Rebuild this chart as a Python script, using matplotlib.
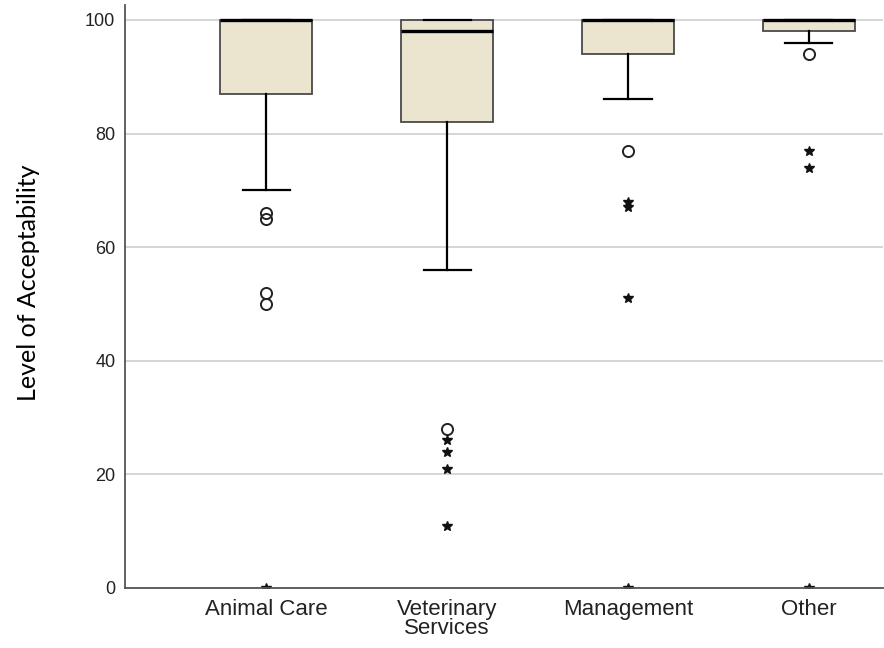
import matplotlib.pyplot as plt

# group names and box statistics
groups = ["Animal Care", "Veterinary\nServices", "Management", "Other"]
q1 = [87, 82, 94, 98]
med = [100, 98, 100, 100]
q3 = [100, 100, 100, 100]
whislo = [70, 56, 86, 96]
whishi = [100, 100, 100, 100]

# outliers (circles) and extreme values (stars)
circles = [[66, 65, 52, 50], [28], [77], [94]]
stars = [[0], [26, 24, 21, 11], [68, 67, 51, 0], [77, 74, 0]]

fig = plt.figure(figsize=(8.84, 6.48), dpi=100)
ax = fig.add_axes([0.1414, 0.0926, 0.8576, 0.8994])

stats = []
for i in range(len(groups)):
    stats.append(dict(q1=q1[i], med=med[i], q3=q3[i], whislo=whislo[i],
                      whishi=whishi[i], fliers=[], label=groups[i]))

pos = [1, 2, 3, 4]
ax.bxp(stats, positions=pos, widths=0.51, patch_artist=True, showfliers=False,
       boxprops=dict(facecolor="#ebe4ce", edgecolor="#4a4a4a", linewidth=1.3),
       medianprops=dict(color="black", linewidth=2.4),
       whiskerprops=dict(color="black", linewidth=1.6),
       capprops=dict(color="black", linewidth=1.6),
       capwidths=0.26, zorder=3)

for i, p in enumerate(pos):
    ax.plot([p] * len(circles[i]), circles[i], linestyle="none", marker="o",
            markersize=8, markerfacecolor="none", markeredgecolor="#222222",
            markeredgewidth=1.4, zorder=4)
    ax.plot([p] * len(stars[i]), stars[i], linestyle="none", marker="*",
            markersize=7.5, color="#111111", zorder=4)

ax.set_xlim(0.22, 4.41)
ax.set_ylim(0, 102.6)
ax.set_yticks([0, 20, 40, 60, 80, 100])
ax.yaxis.grid(True, color="#d2d2d2", linewidth=1.3)
ax.set_axisbelow(True)

for s in ["top", "right"]:
    ax.spines[s].set_visible(False)
for s in ["left", "bottom"]:
    ax.spines[s].set_color("#555555")
    ax.spines[s].set_linewidth(1.3)
    ax.spines[s].set_zorder(5)

ax.tick_params(axis="both", length=0)
ax.tick_params(axis="y", pad=7)
ax.tick_params(axis="x", pad=8)
for lab in ax.get_yticklabels():
    lab.set_fontfamily("Liberation Sans")
    lab.set_fontsize(13)
    lab.set_color("#222222")
ax.set_xticklabels(groups, fontfamily="Liberation Sans", fontsize=16,
                   color="#222222", linespacing=0.85)

ax.set_ylabel("Level of Acceptability", fontsize=18, fontfamily="Lato")
ax.yaxis.set_label_coords(-0.112, 0.523)

fig.savefig("out.png", dpi=100)
